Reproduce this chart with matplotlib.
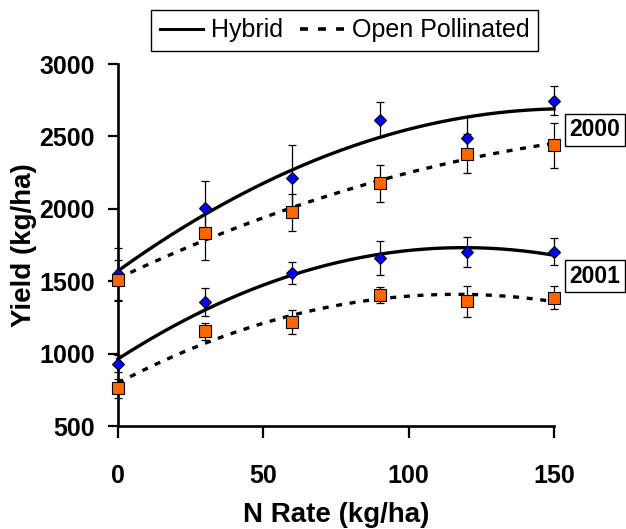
import matplotlib
matplotlib.use("Agg")
import matplotlib.pyplot as plt
import numpy as np
from matplotlib.lines import Line2D

plt.rcParams['font.family'] = ['Liberation Sans', 'DejaVu Sans']

# --- data ---
n_rate = [0, 30, 60, 90, 120, 150]

hybrid_2000 = [1550, 2005, 2215, 2615, 2490, 2745]
hybrid_2000_err = [180, 185, 225, 120, 145, 100]
open_2000 = [1505, 1830, 1975, 2175, 2380, 2440]
open_2000_err = [140, 185, 127, 127, 135, 155]

hybrid_2001 = [930, 1355, 1555, 1660, 1700, 1705]
hybrid_2001_err = [60, 95, 75, 118, 105, 95]
open_2001 = [760, 1155, 1215, 1405, 1360, 1385]
open_2001_err = [67, 58, 83, 55, 110, 80]

x_ticks = [0, 50, 100, 150]
y_ticks = [500, 1000, 1500, 2000, 2500, 3000]
year_labels = ["2000", "2001"]

BLUE = "#0000FF"
ORANGE = "#FF6600"
DOTS = (0, (1.8, 2.3))

fig = plt.figure(figsize=(6.26, 5.29), dpi=100)
ax = fig.add_axes([0.1885, 0.1947, 0.6965, 0.6843])


def trend(x, y, ax, ls):
    # quadratic trendline, as in the original spreadsheet chart
    coef = np.polyfit(x, y, 2)
    xs = np.linspace(min(x), max(x), 200)
    ax.plot(xs, np.polyval(coef, xs), color="black", lw=2.4, ls=ls, zorder=3,
            clip_on=False)


def points(x, y, err, ax, marker, color, ms):
    ax.errorbar(x, y, yerr=err, fmt="none", ecolor="black", elinewidth=0.9,
                capsize=2.6, capthick=0.9, zorder=2, clip_on=False)
    ax.plot(x, y, ls="none", marker=marker, ms=ms, mfc=color, mec="black",
            mew=0.8, zorder=4, clip_on=False)


for hyb, hyb_err, op, op_err in [
    (hybrid_2000, hybrid_2000_err, open_2000, open_2000_err),
    (hybrid_2001, hybrid_2001_err, open_2001, open_2001_err),
]:
    trend(n_rate, hyb, ax, "-")
    trend(n_rate, op, ax, DOTS)
    points(n_rate, hyb, hyb_err, ax, "D", BLUE, 5.9)
    points(n_rate, op, op_err, ax, "s", ORANGE, 8.4)

ax.set_xlim(0, 150)
ax.set_ylim(500, 3000)
ax.set_xticks(x_ticks)
ax.set_yticks(y_ticks)

for side in ["top", "right"]:
    ax.spines[side].set_visible(False)
for side in ["left", "bottom"]:
    ax.spines[side].set_linewidth(1.9)

ax.tick_params(axis="x", direction="out", length=8.5, width=1.6, pad=19,
               labelsize=18)
ax.tick_params(axis="y", direction="out", length=7.5, width=1.6, pad=9,
               labelsize=18)
for lbl in ax.get_xticklabels() + ax.get_yticklabels():
    lbl.set_fontweight("bold")

ax.set_xlabel("N Rate (kg/ha)", fontsize=20, fontweight="bold", labelpad=10)
ax.set_ylabel("Yield (kg/ha)", fontsize=20, fontweight="bold", labelpad=2)

# year tags at the right end of each pair of curves
for label, y in zip(year_labels, [2545, 1535]):
    ax.text(164, y, label, fontsize=16.5, fontweight="bold", ha="center",
            va="center", clip_on=False,
            bbox=dict(boxstyle="square,pad=0.2", fc="white", ec="black",
                      lw=1.0))

handles = [
    Line2D([], [], color="black", lw=2.2),
    Line2D([], [], color="black", lw=2.6, ls=(0, (2.2, 2.8))),
]
leg = fig.legend(handles, ["Hybrid", "Open Pollinated"], ncol=2,
                 loc="center", bbox_to_anchor=(344.5 / 626, 1 - 30.5 / 529),
                 fontsize=18, frameon=True, fancybox=False, edgecolor="black",
                 framealpha=1, handlelength=1.75, handletextpad=0.3,
                 columnspacing=0.7, borderpad=0.35, borderaxespad=0)
leg.get_frame().set_linewidth(1.0)

fig.savefig("out.png", dpi=100)
